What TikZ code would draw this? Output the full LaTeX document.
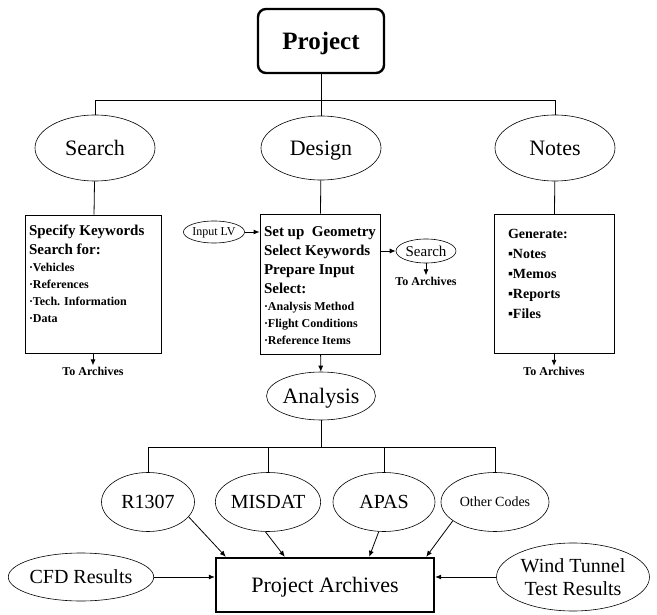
\documentclass[tikz,border=0pt]{standalone}
\usepackage{fontspec}
\setmainfont{Liberation Serif}
\usetikzlibrary{arrows.meta,positioning,shapes.geometric}
\newcommand\hdfont{\fontsize{15}{19}\selectfont\bfseries}
\newcommand\ptfont{\fontsize{12}{17}\selectfont\bfseries}
\newcommand\ntfont{\fontsize{14}{20}\selectfont\bfseries}

\begin{document}
\begin{tikzpicture}[x=1pt, y=-1pt, line width=0.8pt,
  oval/.style={draw, ellipse, inner sep=0pt, line width=0.6pt},
  capmid/.style={text depth=0pt},
  infobox/.style={draw, inner sep=4pt},
  thickbox/.style={draw, line width=2.4pt},
  arch/.style={font=\fontsize{12}{14}\selectfont\bfseries, inner sep=1pt},
  arr/.style={-{Latex[length=6pt,width=5pt]}}]
  \useasboundingbox (0,0) rectangle (657,615);
  % top level
  \node[thickbox, capmid, rounded corners=8pt, minimum width=126pt, minimum height=64pt, font=\fontsize{25}{30}\selectfont\bfseries] (project) at (321,41) {Project};
  \node[oval, capmid, minimum width=120pt, minimum height=66pt, font=\fontsize{22}{26}\selectfont] (search) at (95,148) {Search};
  \node[oval, capmid, minimum width=120pt, minimum height=64pt, font=\fontsize{22}{26}\selectfont] (design) at (321,148) {Design};
  \node[oval, capmid, minimum width=120pt, minimum height=66pt, font=\fontsize{22}{26}\selectfont] (notes) at (555,148) {Notes};
  \coordinate (busl) at (95,100);
  \coordinate (busr) at (555,100);
  \draw (search) -- (busl) -- (busr) -- (notes);
  \draw (project) -- (design);
  % boxes
  \node[infobox] (searchbox) at (93,284) {\parbox[c][130pt][t]{128pt}{\raggedright
    \vspace*{6pt}
    {\hdfont Specify Keywords\par}
    {\hdfont Search for:\par}
    {\ptfont ·Vehicles\par}
    {\ptfont ·References\par}
    {\ptfont ·Tech. Information\par}
    {\ptfont ·Data\par}}};
  \node[infobox] (designbox) at (320,284) {\parbox[c][132pt][t]{112pt}{\raggedright
    \vspace*{9pt}
    {\hdfont Set up\ \ Geometry\par}
    {\hdfont Select Keywords\par}
    {\hdfont Prepare Input\par}
    {\hdfont Select:\par}
    {\ptfont ·Analysis Method\par}
    {\ptfont ·Flight Conditions\par}
    {\ptfont ·Reference Items\par}}};
  \node[infobox] (notesbox) at (554,284) {\parbox[c][131pt][t]{112pt}{\raggedright\leftskip=10pt
    \vspace*{11pt}
    {\ntfont Generate:\par}
    {\ntfont ▪Notes\par}
    {\ntfont ▪Memos\par}
    {\ntfont ▪Reports\par}
    {\ntfont ▪Files\par}}};
  \draw (search) -- (searchbox);
  \draw (design) -- (designbox);
  \draw (notes) -- (notesbox);
  \node[arch, below=12pt of searchbox] (searcharch) {To Archives};
  \node[arch, below=12pt of notesbox] (notesarch) {To Archives};
  \draw[arr] (searchbox) -- (searcharch);
  \draw[arr] (notesbox) -- (notesarch);
  % design side nodes
  \node[oval, capmid, minimum width=60pt, minimum height=22pt, font=\fontsize{12}{14}\selectfont] (inputlv) at (214,232) {Input LV};
  \node[oval, capmid, minimum width=60pt, minimum height=24pt, font=\fontsize{15}{18}\selectfont] (searchsm) at (426,251) {Search};
  \node[arch, below=12pt of searchsm] (designarch) {To Archives};
  \draw[arr] (inputlv) -- (inputlv -| designbox.west);
  \draw[arr] (searchsm -| designbox.east) -- (searchsm);
  \draw[arr] (searchsm) -- (designarch);
  % analysis
  \node[oval, capmid, minimum width=97pt, minimum height=48pt, font=\fontsize{22}{26}\selectfont] (analysis) at (321,396) {Analysis};
  \draw[arr] (designbox) -- (analysis);
  \node[oval, capmid, minimum width=93pt, minimum height=59pt, font=\fontsize{20}{24}\selectfont] (r1307) at (148,502) {R1307};
  \node[oval, capmid, minimum width=101pt, minimum height=59pt, font=\fontsize{20}{24}\selectfont] (misdat) at (268,502) {MISDAT};
  \node[oval, capmid, minimum width=102pt, minimum height=59pt, font=\fontsize{20}{24}\selectfont] (apas) at (384,502) {APAS};
  \node[oval, capmid, minimum width=108pt, minimum height=59pt, font=\fontsize{14}{17}\selectfont] (other) at (495,502) {Other Codes};
  \coordinate (lbusl) at (148,447);
  \coordinate (lbusr) at (495,447);
  \draw (r1307) -- (lbusl) -- (lbusr) -- (other);
  \draw (analysis) -- (analysis |- lbusl);
  \draw (misdat) -- (misdat |- lbusl);
  \draw (apas) -- (apas |- lbusl);
  % archives
  \node[thickbox, capmid, minimum width=218pt, minimum height=54pt, font=\fontsize{22}{26}\selectfont] (archives) at (325,585) {Project Archives};
  \node[oval, capmid, minimum width=132pt, minimum height=48pt, font=\fontsize{20}{24}\selectfont] (cfd) at (81,577) {CFD Results};
  \node[oval, minimum width=153pt, minimum height=68pt, align=center, font=\fontsize{20}{23}\selectfont] (wind) at (573,577) {Wind Tunnel\\Test Results};
  \draw[arr] (r1307.-20) -- ([xshift=11pt]archives.north west);
  \draw[arr] (misdat.-95) -- ([xshift=70pt]archives.north west);
  \draw[arr] (apas.-100) -- ([xshift=-66pt]archives.north east);
  \draw[arr] (other.-156) -- ([xshift=-9pt]archives.north east);
  \draw[arr] (cfd) -- (cfd -| archives.west);
  \draw[arr] (wind) -- (wind -| archives.east);
\end{tikzpicture}
\end{document}
